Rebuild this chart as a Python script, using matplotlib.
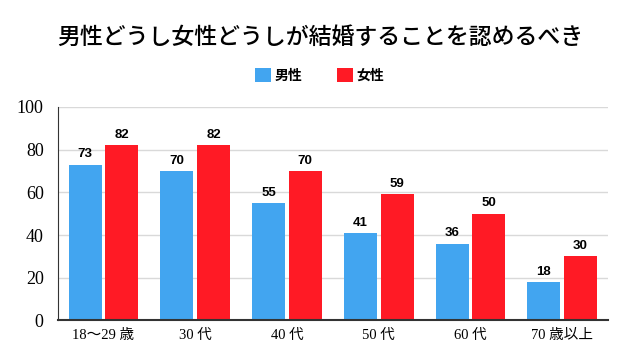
import numpy as np
import matplotlib.pyplot as plt

plt.rcParams['font.family'] = ['Noto Sans CJK JP', 'DejaVu Sans']

categories = ['18～29 歳', '30 代', '40 代', '50 代', '60 代', '70 歳以上']
male = [73, 70, 55, 41, 36, 18]
female = [82, 82, 70, 59, 50, 30]

blue = '#42a5f0'
red = '#ff1a25'

fig = plt.figure(figsize=(6.4, 3.6), dpi=100)
ax = fig.add_axes([0.09, 0.11, 0.86, 0.593])

x = np.arange(len(categories))
w = 0.36
b1 = ax.bar(x - w / 2 - 0.02, male, w, color=blue, label='男性', zorder=2)
b2 = ax.bar(x + w / 2 + 0.02, female, w, color=red, label='女性', zorder=2)

for bars in (b1, b2):
    for b in bars:
        ax.text(b.get_x() + b.get_width() / 2, b.get_height() + 2, str(int(b.get_height())),
                ha='center', va='bottom', fontsize=9.5, fontweight='bold',
                family=['Liberation Sans', 'DejaVu Sans'])

ax.set_ylim(0, 100)
ax.set_xlim(-0.5, len(categories) - 0.5)
ax.set_yticks(range(0, 101, 20))
ax.set_yticklabels([str(v) for v in range(0, 101, 20)], family=['Liberation Serif', 'DejaVu Serif'], fontsize=13)
ax.set_xticks(x)
ax.set_xticklabels(categories, fontsize=10.5, family=['Liberation Serif', 'Noto Sans CJK JP'])
ax.tick_params(axis='both', length=0, pad=6)
ax.tick_params(axis='y', pad=10)
ax.grid(axis='y', color='#d9d9d9', linewidth=1, zorder=0)
for s in ('top', 'right'):
    ax.spines[s].set_visible(False)
ax.spines['left'].set_color('#333333')
ax.spines['bottom'].set_color('#333333')
ax.spines['bottom'].set_linewidth(1.5)

fig.text(0.5, 0.895, '男性どうし女性どうしが結婚することを認めるべき', ha='center', va='center',
         fontsize=16.5, fontweight='medium')
fig.legend(loc='center', bbox_to_anchor=(0.5, 0.79), ncol=2, frameon=False,
           prop={'size': 10, 'weight': 'bold'},
           handlelength=1.1, handleheight=1.1, columnspacing=2.5, handletextpad=0.3)

fig.savefig('out.png', dpi=100)
